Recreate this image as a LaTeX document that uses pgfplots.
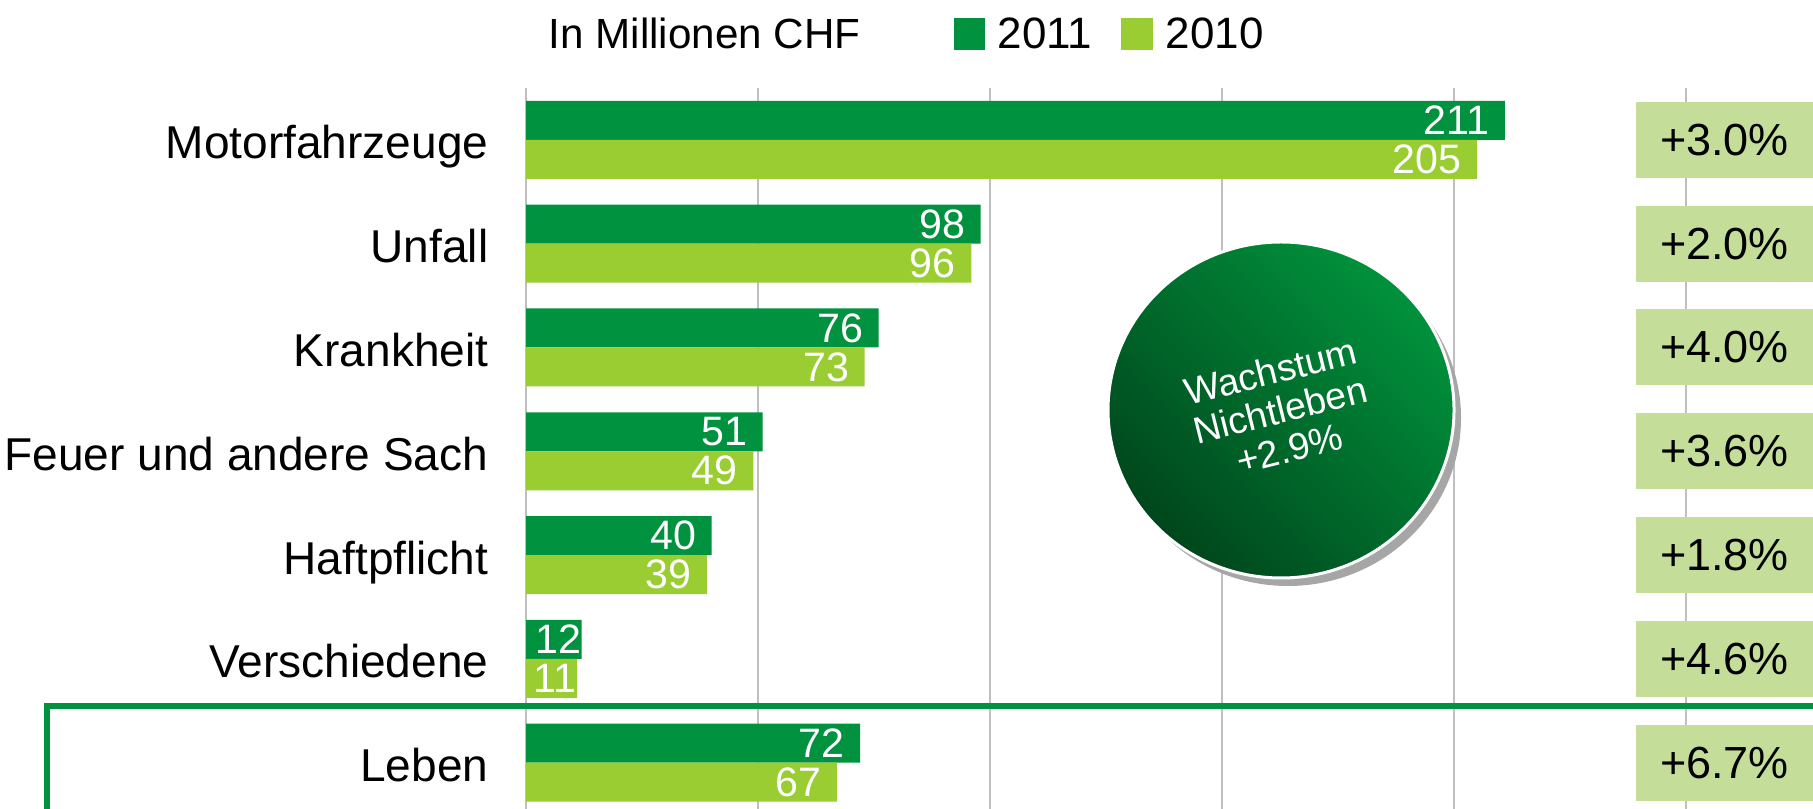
\documentclass[border=0pt]{standalone}
\usepackage{fontspec}
\setmainfont{Liberation Sans}
\usepackage{pgfplots}
\usepackage{pgfplotstable}
\pgfplotsset{compat=1.18}
\definecolor{g11}{RGB}{0,146,63}
\definecolor{g10}{RGB}{154,205,50}
\definecolor{boxg}{RGB}{196,222,153}
\definecolor{circlo}{RGB}{0,70,28}
\definecolor{circhi}{RGB}{0,146,60}

% y = category (0 = top), val = Mio CHF, ins = label inset in mm
\pgfplotstableread{
y val ins
0 211 1.5
1 98  1.5
2 76  1.5
3 51  1.5
4 40  1.5
5 12  0
6 72  1.5
}\dataA
\pgfplotstableread{
y val ins
0 205 1.5
1 96  1.5
2 73  1.5
3 49  1.5
4 39  1.5
5 11  0
6 67  1.5
}\dataB

\begin{document}
\begin{tikzpicture}
\useasboundingbox (0,0) rectangle (181.3mm,80.9mm);
\clip (0,0) rectangle (181.3mm,80.9mm);

\begin{axis}[
  at={(52.6mm,72.1mm)}, anchor=north west,
  scale only axis, width=128.7mm, height=72.66mm,
  xbar, bar width=3.9mm,
  xmin=0, xmax=277.4, ymin=-0.5, ymax=6.5, y dir=reverse,
  xtick={0,50,...,250}, xticklabels={},
  xmajorgrids, major grid style={draw=black!25, line width=0.2mm},
  ytick={0,...,6},
  yticklabels={Motorfahrzeuge, Unfall, Krankheit, Feuer und andere Sach, Haftpflicht, Verschiedene, Leben},
  yticklabel style={font=\fontsize{13.1}{15}\selectfont, inner sep=0pt,
    anchor=base east, xshift=-2.2mm, yshift=-1.9mm},
  axis line style={draw=none}, tick style={draw=none},
  /pgf/number format/assume math mode=true,
]
\addplot[fill=g11, draw=none, bar shift=1.95mm,
  nodes near coords, visualization depends on={\thisrow{ins} \as \ins},
  nodes near coords style={anchor=east, white, inner sep=0pt, xshift=-\ins mm,
    font=\fontsize{11.7}{13}\selectfont}]
  table[x=val, y=y] {\dataA};
\addplot[fill=g10, draw=none, bar shift=-1.95mm,
  nodes near coords, visualization depends on={\thisrow{ins} \as \ins},
  nodes near coords style={anchor=east, white, inner sep=0pt, xshift=-\ins mm,
    font=\fontsize{11.7}{13}\selectfont}]
  table[x=val, y=y] {\dataB};
% growth 2011 vs 2010
\addplot[sharp plot, draw=none, mark=none, point meta=explicit symbolic,
  nodes near coords,
  nodes near coords style={anchor=west, fill=boxg, text=black, inner sep=0pt,
    minimum width=17.8mm, minimum height=7.6mm, font=\fontsize{12.8}{14}\selectfont}]
  coordinates {(239,0) [+3.0\%] (239,1) [+2.0\%] (239,2) [+4.0\%] (239,3) [+3.6\%]
               (239,4) [+1.8\%] (239,5) [+4.6\%] (239,6) [+6.7\%]};
\end{axis}

\begin{scope}[shift={(0mm,80.9mm)}, x=0.1mm, y=-0.1mm]
% legend
\node[anchor=west, inner sep=0pt, font=\fontsize{12}{14}\selectfont] at (548,33) {In Millionen CHF};
\fill[g11] (954,18) rectangle (985,50);
\node[anchor=west, inner sep=0pt, font=\fontsize{12.5}{14}\selectfont] at (997,33) {2011};
\fill[g10] (1121,18) rectangle (1153,50);
\node[anchor=west, inner sep=0pt, font=\fontsize{12.5}{14}\selectfont] at (1165,33) {2010};

% life frame
\draw[g11, line width=0.55mm] (47,706) rectangle (1900,900);

% growth bubble
\fill[black!35] (1288,418) ellipse [x radius=17.3mm, y radius=16.8mm];
\shadedraw[top color=circhi, bottom color=circlo, shading angle=-45, draw=white, line width=0.3mm]
  (1281,410) ellipse [x radius=17.3mm, y radius=16.8mm];
\node[rotate=14, white, align=center, font=\fontsize{10.7}{11.3}\selectfont] at (1280,410)
  {Wachstum\\Nichtleben\\+2.9\%};
\end{scope}
\end{tikzpicture}
\end{document}
